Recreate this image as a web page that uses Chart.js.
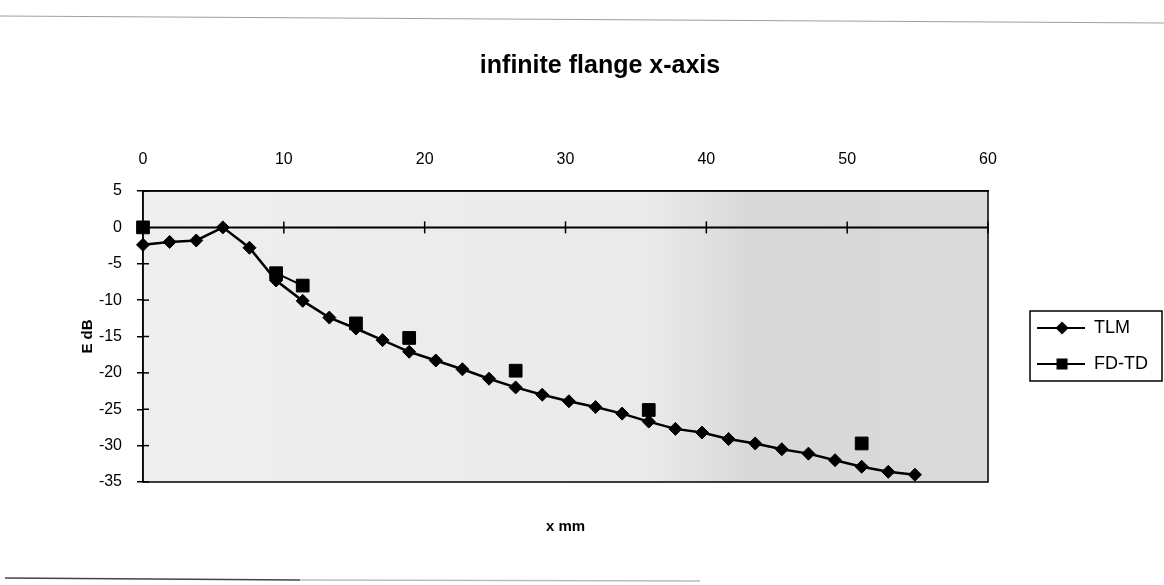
<!DOCTYPE html>
<html><head><meta charset="utf-8">
<script src="https://cdn.jsdelivr.net/npm/chart.js@4.4.1/dist/chart.umd.min.js"></script>
<style>html,body{margin:0;padding:0;background:#fff}#wrap{width:1164px;height:585px;position:relative}</style>
</head><body><div id="wrap"><canvas id="c" width="1164" height="585"></canvas></div>
<script>
// ---- data ----
const chartTitle = 'infinite flange x-axis';
const xAxisTitle = 'x mm';
const yAxisTitle = 'E dB';
const seriesNames = ['TLM', 'FD-TD'];
const xPositions = [0, 1.89, 3.78, 5.67, 7.56, 9.45, 11.34, 13.23, 15.12, 17.01,
  18.9, 20.79, 22.68, 24.57, 26.46, 28.35, 30.24, 32.13, 34.02, 35.91,
  37.8, 39.69, 41.58, 43.47, 45.36, 47.25, 49.14, 51.03, 52.92, 54.81];
const tlmValues = [-2.4, -2.0, -1.8, 0, -2.8, -7.3, -10.1, -12.4, -13.9, -15.5,
  -17.1, -18.3, -19.5, -20.8, -22.0, -23.0, -23.9, -24.7, -25.6, -26.7,
  -27.7, -28.2, -29.1, -29.7, -30.5, -31.1, -32.0, -32.9, -33.6, -34.0];
const fdtdValues = [0, null, null, null, null, -6.3, -8.0, null, -13.2, null,
  -15.2, null, null, null, -19.7, null, null, null, null, -25.1,
  null, null, null, null, null, null, null, -29.7, null, null];
const xTickValues = [0, 10, 20, 30, 40, 50, 60];
const yTickValues = [5, 0, -5, -10, -15, -20, -25, -30, -35];

const SANS = "'Liberation Sans', Arial, sans-serif";

function legendIcon(kind) {
  const c = document.createElement('canvas');
  c.width = 79; c.height = 20;
  const g = c.getContext('2d');
  g.strokeStyle = '#000'; g.lineWidth = 2;
  g.beginPath(); g.moveTo(31, 10); g.lineTo(79, 10); g.stroke();
  g.fillStyle = '#000';
  const cx = 56, cy = 10;
  if (kind === 'diamond') {
    g.beginPath(); g.moveTo(cx - 6.5, cy); g.lineTo(cx, cy - 6.5); g.lineTo(cx + 6.5, cy); g.lineTo(cx, cy + 6.5); g.closePath(); g.fill();
  } else {
    g.fillRect(cx - 5.5, cy - 5.5, 11, 11);
  }
  return c;
}
const icons = [legendIcon('diamond'), legendIcon('square')];

const decor = {
  id: 'decor',
  beforeDraw(chart) {
    const {ctx, chartArea: a} = chart;
    ctx.save();
    const gr = ctx.createLinearGradient(a.left, 0, a.right, 0);
    gr.addColorStop(0, '#efefef');
    gr.addColorStop(0.6, '#eaeaea');
    gr.addColorStop(0.72, '#d8d8d8');
    gr.addColorStop(1, '#dadada');
    ctx.fillStyle = gr;
    ctx.fillRect(a.left, a.top, a.right - a.left, a.bottom - a.top);
    // scanned page edges
    ctx.strokeStyle = '#a0a0a0'; ctx.lineWidth = 1.2;
    ctx.beginPath(); ctx.moveTo(0, 16); ctx.lineTo(1164, 23); ctx.stroke();
    ctx.strokeStyle = '#444'; ctx.lineWidth = 1.5;
    ctx.beginPath(); ctx.moveTo(5, 578); ctx.lineTo(300, 580); ctx.stroke();
    ctx.strokeStyle = '#bbb';
    ctx.beginPath(); ctx.moveTo(300, 580); ctx.lineTo(700, 581); ctx.stroke();
    ctx.restore();
  },
  beforeDatasetsDraw(chart) {
    const {ctx, chartArea: a, scales} = chart;
    const y0 = scales.y.getPixelForValue(0);
    ctx.save();
    ctx.strokeStyle = '#000';
    ctx.lineWidth = 1.5;
    ctx.strokeRect(a.left, a.top, a.right - a.left, a.bottom - a.top);
    ctx.lineWidth = 2;
    ctx.beginPath(); ctx.moveTo(a.left, y0); ctx.lineTo(a.right, y0); ctx.stroke();
    ctx.lineWidth = 1.5;
    xTickValues.forEach(v => {
      const px = scales.x.getPixelForValue(v);
      ctx.beginPath(); ctx.moveTo(px, y0 - 6); ctx.lineTo(px, y0 + 6); ctx.stroke();
    });
    yTickValues.forEach(v => {
      const py = scales.y.getPixelForValue(v);
      ctx.beginPath(); ctx.moveTo(a.left, py); ctx.lineTo(a.left + 6, py); ctx.stroke();
    });
    ctx.restore();
  },
  afterDraw(chart) {
    const lg = chart.legend;
    if (!lg || !lg.legendHitBoxes || !lg.legendHitBoxes.length) return;
    const hb = lg.legendHitBoxes;
    const ctx = chart.ctx;
    ctx.save();
    ctx.strokeStyle = '#000'; ctx.lineWidth = 1.5;
    const left = hb[0].left + 24;
    const top = hb[0].top - 8;
    const bottom = hb[hb.length - 1].top + hb[hb.length - 1].height + 8;
    ctx.strokeRect(left, top, 1162 - left, bottom - top);
    ctx.restore();
  }
};

new Chart(document.getElementById('c'), {
  type: 'line',
  data: {
    datasets: [
      {
        label: seriesNames[0],
        data: xPositions.map((x, i) => ({x: x, y: tlmValues[i]})),
        borderColor: '#000', backgroundColor: '#000', borderWidth: 2.5,
        pointStyle: 'rectRot', pointRadius: 6.5, pointHoverRadius: 6.5,
        pointBackgroundColor: '#000', pointBorderColor: '#000', pointBorderWidth: 1,
        tension: 0, clip: false
      },
      {
        label: seriesNames[1],
        data: xPositions.map((x, i) => ({x: x, y: fdtdValues[i]})),
        borderColor: '#000', backgroundColor: '#000', borderWidth: 2,
        pointStyle: 'rect', pointRadius: 9, pointHoverRadius: 9,
        pointBackgroundColor: '#000', pointBorderColor: '#000', pointBorderWidth: 1,
        spanGaps: false, tension: 0, clip: false
      }
    ]
  },
  options: {
    responsive: false,
    animation: false,
    events: [],
    layout: {padding: {left: 42, right: 6, top: 20, bottom: 33}},
    plugins: {
      title: {
        display: true, text: chartTitle, color: '#000',
        font: {family: SANS, size: 25, weight: 'bold'},
        padding: {top: 31, bottom: 0}
      },
      legend: {
        display: true, position: 'right', align: 'center',
        title: {display: true, text: ' ', font: {size: 10}, padding: {top: 108, bottom: 0}},
        labels: {
          usePointStyle: true, pointStyleWidth: 79, padding: 18,
          color: '#000', font: {family: SANS, size: 18},
          generateLabels(chart) {
            return chart.data.datasets.map((ds, i) => ({
              text: ds.label, pointStyle: icons[i], datasetIndex: i, hidden: false,
              lineWidth: 0, fillStyle: '#000', strokeStyle: '#000', fontColor: '#000'
            }));
          }
        }
      },
      tooltip: {enabled: false}
    },
    scales: {
      x: {
        type: 'linear', position: 'top', min: 0, max: 60,
        afterBuildTicks(s) { s.ticks = xTickValues.map(v => ({value: v})); },
        afterFit(s) { s.height = 110; },
        grid: {display: false, drawTicks: false},
        border: {display: true, color: '#000', width: 1.5},
        ticks: {color: '#000', font: {family: SANS, size: 16}, padding: 22, maxRotation: 0}
      },
      xb: {
        type: 'linear', position: 'bottom', min: 0, max: 60,
        afterFit(s) { s.height = 70; },
        grid: {display: false, drawTicks: false},
        border: {display: false},
        ticks: {display: false},
        title: {display: true, text: xAxisTitle, color: '#000',
          font: {family: SANS, size: 15, weight: 'bold'}, padding: {top: 0, bottom: 16}}
      },
      y: {
        type: 'linear', position: 'left', min: -35, max: 5,
        afterBuildTicks(s) { s.ticks = yTickValues.map(v => ({value: v})); },
        afterFit(s) { s.width = 101; },
        grid: {display: true, drawOnChartArea: false, drawTicks: true, tickLength: 6, color: '#000', lineWidth: 1.5},
        border: {display: true, color: '#000', width: 1.5},
        ticks: {color: '#000', font: {family: SANS, size: 16}, padding: 15},
        title: {display: true, text: yAxisTitle, color: '#000',
          font: {family: SANS, size: 15, weight: 'bold'}, padding: {top: 37, bottom: 0}}
      }
    }
  },
  plugins: [decor]
});
</script></body></html>
